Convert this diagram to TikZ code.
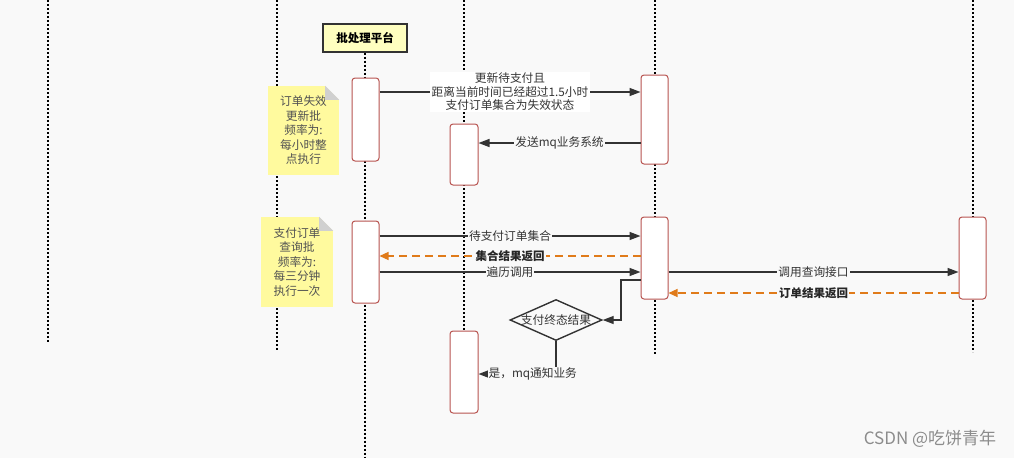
\documentclass[tikz,border=0pt]{standalone}
\usepackage{fontspec}
\setmainfont{Noto Sans CJK SC}
\usetikzlibrary{arrows.meta,shapes.geometric,calc}
\definecolor{bg}{HTML}{F9F9F9}
\definecolor{ink}{HTML}{333333}
\definecolor{actred}{HTML}{B85450}
\definecolor{noteyel}{HTML}{FFFA9E}
\definecolor{hdryel}{HTML}{FFFFC0}
\definecolor{foldgray}{HTML}{D0D0D0}
\definecolor{orng}{HTML}{E07B1A}
\begin{document}
\begin{tikzpicture}[x=1pt,y=-1pt,
  life/.style={line width=2pt, dash pattern=on 2pt off 2pt, black},
  act/.style={rectangle, rounded corners=3pt, draw=actred, line width=1pt, fill=white, minimum width=27pt, inner sep=0pt},
  msg/.style={draw=ink, line width=1.4pt, -{Triangle[length=11pt,width=8pt]}},
  ret/.style={draw=orng, line width=1.2pt, dash pattern=on 8pt off 5pt, -{Triangle[length=9pt,width=8pt]}},
  lbl/.style={fill=bg, inner sep=1pt, text=ink, font=\fontsize{11.7}{13.5}\selectfont},
  rlbl/.style={lbl, text=black!85, font=\fontsize{11.5}{13.5}\selectfont\bfseries},
  notebox/.style={rectangle, fill=noteyel, inner sep=0pt, align=center, text=ink!85, font=\fontsize{11.7}{14.5}\selectfont},
  hdrbox/.style={rectangle, draw=ink, line width=1.2pt, fill=hdryel, inner sep=0pt, font=\fontsize{11.5}{13.5}\selectfont\bfseries},
  dia/.style={diamond, draw=ink, line width=1.4pt, fill=bg, minimum width=92pt, minimum height=41pt, inner sep=0pt}
]
\useasboundingbox[fill=bg] (0,0) rectangle (1014,458);

% lifelines
\node[hdrbox, minimum width=84pt, minimum height=28pt] (hdr) at (365,38) {批处理平台};
\coordinate (l1t) at (47.5,0);   \coordinate (l1b) at (47.5,343);
\coordinate (l2t) at (276.5,0);  \coordinate (l2b) at (276.5,350);
\coordinate (l3b) at (365,458);
\coordinate (l4t) at (464,0);    \coordinate (l4b) at (464,331);
\coordinate (l5t) at (654.5,0);  \coordinate (l5b) at (654.5,355);
\coordinate (l6t) at (972.5,0);  \coordinate (l6b) at (972.5,352);
\draw[life] (l1t) -- (l1b);
\draw[life] (l2t) -- (l2b);
\draw[life] (hdr.south) -- (l3b);
\draw[life] (l4t) -- (l4b);
\draw[life] (l5t) -- (l5b);
\draw[life] (l6t) -- (l6b);

% activation boxes
\node[act, minimum height=83pt] (A1) at (365.5,119.5) {};
\node[act, minimum height=61pt, minimum width=28pt] (A2) at (464,154.5) {};
\node[act, minimum height=89pt] (A3) at (654.5,119.5) {};
\node[act, minimum height=82pt] (A4) at (365.5,262) {};
\node[act, minimum height=82pt] (A5) at (654.5,258) {};
\node[act, minimum height=82pt] (A6) at (972.5,258) {};
\node[act, minimum height=82pt, minimum width=28pt] (A7) at (464,372) {};

% notes
\node[notebox, minimum width=71pt, minimum height=89pt] (N1) at (303.5,130.5)
  {订单失效\\更新批\\频率为:\\每小时整\\点执行};
\fill[bg] ($(N1.north east)+(-14,0)$) -- (N1.north east) -- ($(N1.north east)+(0,14)$) -- cycle;
\fill[foldgray] ($(N1.north east)+(-14,0)$) -- ($(N1.north east)+(-14,14)$) -- ($(N1.north east)+(0,14)$) -- cycle;
\node[notebox, minimum width=72pt, minimum height=90pt] (N2) at (297,262)
  {支付订单\\查询批\\频率为:\\每三分钟\\执行一次};
\fill[bg] ($(N2.north east)+(-14,0)$) -- (N2.north east) -- ($(N2.north east)+(0,14)$) -- cycle;
\fill[foldgray] ($(N2.north east)+(-14,0)$) -- ($(N2.north east)+(-14,14)$) -- ($(N2.north east)+(0,14)$) -- cycle;

% decision
\node[dia, label={[lbl, fill=none]center:支付终态结果}] (dia) at (556,320) {};

% message levels
\coordinate (y1) at (0,92);
\coordinate (y2) at (0,143);
\coordinate (y3) at (0,236);
\coordinate (y4) at (0,256);
\coordinate (y5) at (0,272);
\coordinate (y7) at (0,293);
\coordinate (y8) at (0,280);
\coordinate (y9) at (0,374);
\coordinate (k8) at (621,320);

% messages
\draw[msg] (A1.east |- y1) -- node[lbl, fill=white, align=center, inner sep=1.5pt]
  {更新待支付且\\距离当前时间已经超过1.5小时\\支付订单集合为失效状态} (A3.west |- y1);
\draw[msg] (A3.west |- y2) -- node[lbl] {发送mq业务系统} (A2.east |- y2);
\draw[msg] (A4.east |- y3) -- node[lbl] {待支付订单集合} (A5.west |- y3);
\draw[ret] (A5.west |- y4) -- node[rlbl] {集合结果返回} (A4.east |- y4);
\draw[msg] (A4.east |- y5) -- node[lbl] {遍历调用} (A5.west |- y5);
\draw[msg] (A5.east |- y5) -- node[lbl] {调用查询接口} (A6.west |- y5);
\draw[ret] (A6.west |- y7) -- node[rlbl] {订单结果返回} (A5.east |- y7);
\draw[msg] (A5.west |- y8) -| (k8) -- (dia.east);
\draw[msg] (dia.south) |- node[lbl, pos=0.65] {是，mq通知业务} (A7.east |- y9);

% watermark
\node[text=black!45, font=\fontsize{17}{19}\selectfont, anchor=center] (wm) at (930,439) {CSDN @吃饼青年};
\end{tikzpicture}
\end{document}
